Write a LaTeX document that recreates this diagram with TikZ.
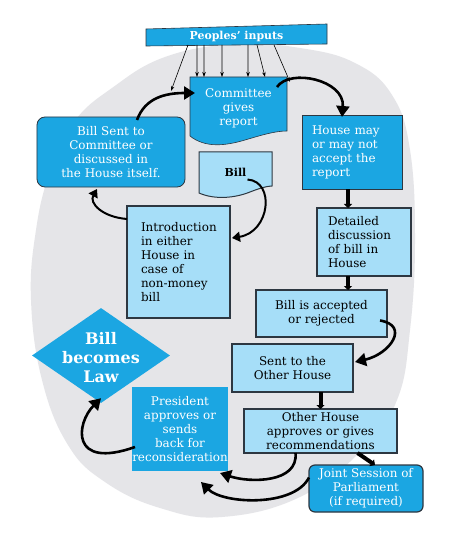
\documentclass[tikz,border=0pt]{standalone}
\usepackage{fontspec}
\setmainfont{DejaVu Serif}
\usetikzlibrary{arrows.meta,shapes.geometric,calc}
\definecolor{cyanc}{RGB}{27,166,226}
\definecolor{lightc}{RGB}{166,222,248}
\definecolor{edgec}{RGB}{45,55,65}
\definecolor{greyc}{RGB}{229,229,232}
\begin{document}
\begin{tikzpicture}[x=1bp,y=-1bp,
 txt/.style={font=\fontsize{12}{14}\selectfont, inner sep=0pt, outer sep=0pt},
 cyanbox/.style={txt, rectangle, fill=cyanc, draw=edgec, line width=0.8bp, text=white, align=center},
 lightbox/.style={txt, rectangle, fill=lightc, draw=edgec, line width=1.2bp, text=black},
 bigarrow/.style={line width=2.6bp, -{Triangle[length=11bp,width=13bp]}},
 midarrow/.style={line width=2bp, -{Triangle[length=8bp,width=10bp]}},
 bararrow/.style={line width=4bp, -{Triangle[length=4bp,width=8bp]}},
 thinarrow/.style={line width=0.6bp, -{Stealth[length=5bp,width=3.5bp]}},
]
\useasboundingbox (0,0) rectangle (465,543);
\fill[white] (0,0) rectangle (465,543);
\fill[greyc] plot[smooth cycle, tension=0.7] coordinates {(235,44) (300,48) (355,63) (392,95) (410,150) (415,240) (410,330) (397,400) (362,450) (300,497) (222,517) (160,508) (105,482) (68,445) (42,380) (31,300) (36,230) (50,172) (74,122) (112,88) (165,57)};

% Peoples' inputs
\fill[cyanc, draw=edgec, line width=0.6bp] (146,29) -- (327,24) -- (327,44) -- (146,46) -- cycle;
\node[txt, text=white, font=\fontsize{11}{12}\selectfont\bfseries, minimum width=181bp, minimum height=17bp] (inputs) at (236.5,36.5) {Peoples' inputs};

% Committee gives report (document shape)
\fill[cyanc, draw=edgec, line width=0.6bp] (190,77) -- (287,77) -- (287,131) .. controls (275,131) and (262,135) .. (245,140) .. controls (225,146) and (205,148) .. (190,136) -- cycle;
\node[txt, text=white, align=center, minimum width=97bp, minimum height=63bp] (committee) at (238.5,108.5) {Committee\\gives\\report};

% Bill (document shape)
\fill[lightc, draw=edgec, line width=1bp] (199,152) -- (272,152) -- (272,186) .. controls (268,186) and (260,188) .. (250,192) .. controls (235,198) and (215,200) .. (199,193) -- cycle;
\node[txt, font=\fontsize{11}{13}\selectfont\bfseries, minimum width=73bp, minimum height=41bp] (bill) at (235.5,172.5) {Bill};

\node[cyanbox, rounded corners=8bp, minimum width=148bp, minimum height=70bp] (billsent) at (111,152) {Bill Sent to\\Committee or\\discussed in\\the House itself.};
\node[cyanbox, align=left, text width=80bp, inner xsep=10bp, minimum height=74bp] (housemay) at (352,152) {House may\\or may not\\accept the\\report};
\node[lightbox, align=left, text width=75bp, inner xsep=14bp, minimum height=112bp] (intro) at (178.5,262) {Introduction\\in either\\House in\\case of\\non-money\\bill};
\node[lightbox, align=left, text width=72bp, inner xsep=11bp, minimum height=68bp] (detailed) at (364,242) {Detailed\\discussion\\of bill in\\House};
\node[lightbox, align=center, minimum width=131bp, minimum height=47bp] (accepted) at (321.5,313.5) {Bill is accepted\\or rejected};
\node[lightbox, align=center, minimum width=121bp, minimum height=48bp] (sent) at (292.5,368) {Sent to the\\Other House};
\node[lightbox, align=center, minimum width=153bp, minimum height=44bp] (other) at (320.5,431) {Other House\\approves or gives\\recommendations};
\node[cyanbox, rounded corners=6bp, line width=1.2bp, minimum width=114bp, minimum height=47bp] (joint) at (366,488.5) {Joint Session of\\Parliament\\(if required)};
\node[cyanbox, draw=none, minimum width=96bp, minimum height=84bp] (president) at (180,429) {President\\approves or\\sends\\back for\\reconsideration};
\node[diamond, fill=cyanc, inner sep=0pt, minimum width=138bp, minimum height=95bp] (law) at (101,355.5) {};
\node[txt, text=white, align=center, font=\fontsize{16}{19.5}\selectfont\bfseries] (lawtext) at ([yshift=-2bp]law.center) {Bill\\becomes\\Law};

% thin arrows from inputs
\foreach \s/\e/\ey in {42/-19/14, 51/7/0, 58/14/0, 76/32/0, 102/58/0, 111/75/0, 128/100/5}
  \draw[thinarrow] ([xshift=\s bp]inputs.south west) -- ([xshift=\e bp, yshift=-\ey bp]committee.north west);

% connectors
\draw[bigarrow] ([xshift=26bp,yshift=-3bp]billsent.north) .. controls +(8,-22) and +(-30,0) .. ([xshift=5bp,yshift=-16bp]committee.north west);
\draw[bigarrow] ([xshift=-10bp,yshift=-10bp]committee.north east) .. controls +(13,-19) and +(3,-37) .. ([xshift=-10bp,yshift=-2bp]housemay.north);
\draw[bararrow] ([xshift=-4bp]housemay.south) -- ([xshift=-4bp]housemay.south |- detailed.north);
\draw[bararrow] ([xshift=-16bp]detailed.south) -- ([xshift=-16bp]detailed.south |- accepted.north);
\draw[bigarrow] ([xshift=-7bp,yshift=-7bp]accepted.east) .. controls +(30,5) and +(35,-8) .. ([xshift=2bp,yshift=6bp]sent.east);
\draw[bararrow] (sent.south -| other.north) -- (other.north);
\draw[bararrow] ([xshift=37bp]other.south) -- ([xshift=9bp]joint.north);
\draw[bigarrow] ([xshift=-25bp]other.south) .. controls +(3,30) and +(30,10) .. ([xshift=-8bp,yshift=-2bp]president.south east);
\draw[bigarrow] ([yshift=11bp]joint.west) .. controls +(-15,30) and +(22,22) .. ([xshift=-27bp,yshift=-11bp]president.south east);
\draw[bigarrow] ([xshift=3bp,yshift=-18bp]president.west) .. controls +(-65,23) and +(-25,25) .. ([yshift=5bp]law.south);
\draw[midarrow] ([yshift=-13bp]intro.north west) .. controls +(-25,-2) and +(-8,14) .. ([xshift=-14bp,yshift=-2bp]billsent.south);
\draw[midarrow] ([xshift=12bp,yshift=-7bp]bill.center) .. controls +(28,2) and +(38,-6) .. ([xshift=2bp,yshift=-32bp]intro.north east);
\end{tikzpicture}
\end{document}
